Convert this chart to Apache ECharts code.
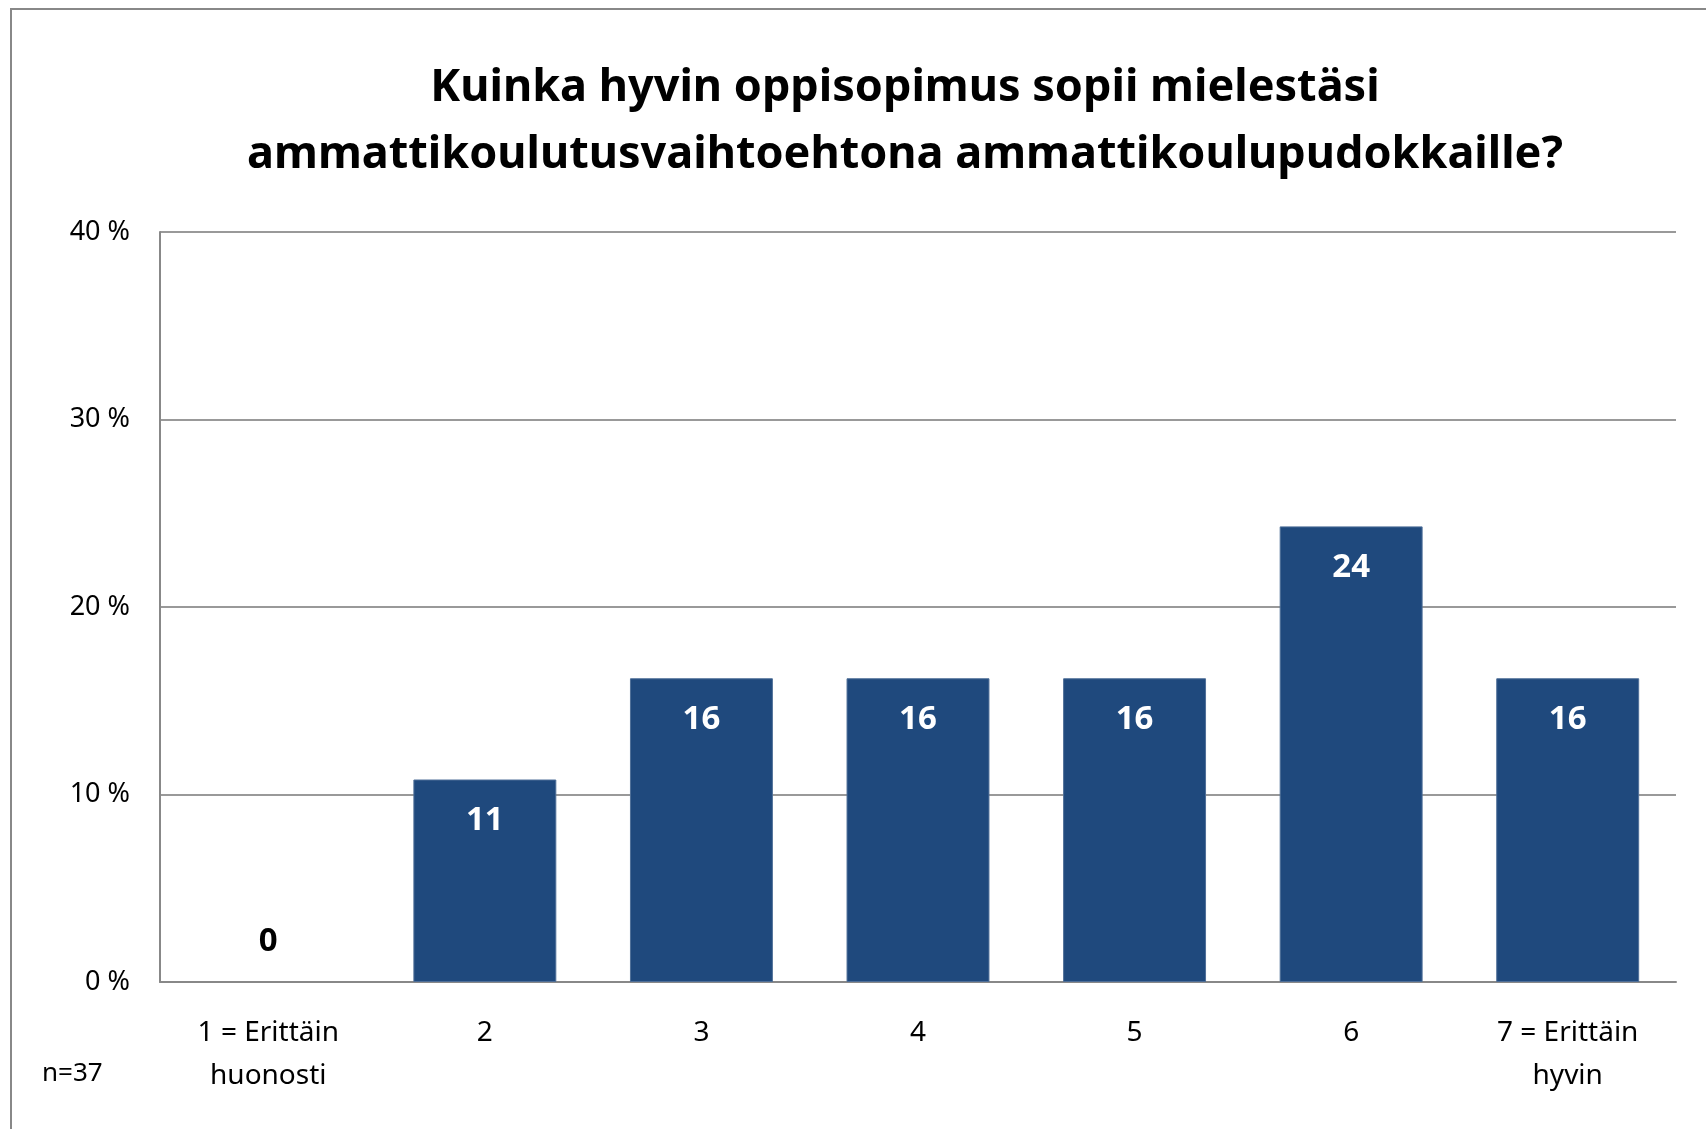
<!DOCTYPE html>
<html>
<head>
<meta charset="utf-8">
<script src="https://cdn.jsdelivr.net/npm/echarts@6/dist/echarts.min.js"></script>
<style>
  html, body { margin: 0; padding: 0; background: #fff; }
  #chart { width: 1706px; height: 1129px; }
</style>
</head>
<body>
<div id="chart"></div>
<script>
// answers on scale 1..7, share of respondents (%), n=37
const categories = ['1 = Erittäin\nhuonosti', '2', '3', '4', '5', '6', '7 = Erittäin\nhyvin']
const shares = [0, 10.8, 16.2, 16.2, 16.2, 24.3, 16.2]
const yTicks = [0, 10, 20, 30, 40]
const titleText = 'Kuinka hyvin oppisopimus sopii mielestäsi\nammattikoulutusvaihtoehtona ammattikoulupudokkaille?'
const noteText = 'n=37'

const font = "'Noto Sans', 'Open Sans', sans-serif"
const chart = echarts.init(document.getElementById('chart'))

chart.setOption({
  animation: false,
  backgroundColor: '#fff',
  title: {
    text: titleText,
    left: 900,
    top: 50,
    textAlign: 'center',
    textStyle: {
      fontFamily: font,
      fontWeight: 'bold',
      fontSize: 45,
      lineHeight: 67,
      color: '#000'
    }
  },
  grid: {
    left: 160,
    right: 30,
    top: 232,
    bottom: 147
  },
  xAxis: {
    type: 'category',
    data: categories,
    axisLine: { lineStyle: { color: '#888', width: 2 } },
    axisTick: { show: false },
    axisLabel: {
      interval: 0,
      margin: 30,
      fontFamily: font,
      fontSize: 28,
      lineHeight: 43,
      color: '#000'
    }
  },
  yAxis: {
    type: 'value',
    min: yTicks[0],
    max: yTicks[yTicks.length - 1],
    interval: 10,
    axisLine: { show: true, lineStyle: { color: '#888', width: 2 } },
    axisTick: { show: false },
    splitLine: { lineStyle: { color: '#999', width: 2 } },
    axisLabel: {
      margin: 30,
      fontFamily: font,
      fontSize: 27,
      color: '#000',
      formatter: v => v + ' %'
    }
  },
  graphic: [
    {
      type: 'rect',
      shape: { x: 11, y: 9, width: 1800, height: 1200 },
      style: { fill: 'none', stroke: '#888', lineWidth: 2 },
      silent: true
    },
    {
      type: 'text',
      left: 42,
      top: 1061,
      style: { text: noteText, font: '26px ' + font, fill: '#000' }
    }
  ],
  series: [
    {
      type: 'bar',
      barCategoryGap: '34%',
      itemStyle: { color: '#1F497D', borderColor: '#4f6f98', borderWidth: 1 },
      data: shares.map(v => {
        if (v === 0) {
          return {
            value: v,
            itemStyle: { borderWidth: 0 },
            label: { position: 'top', distance: 24, color: '#000' }
          }
        }
        return v
      }),
      label: {
        show: true,
        position: 'insideTop',
        distance: 25,
        fontFamily: font,
        fontWeight: 'bold',
        fontSize: 33,
        color: '#fff',
        formatter: p => Math.round(p.value)
      }
    }
  ]
})
</script>
</body>
</html>
